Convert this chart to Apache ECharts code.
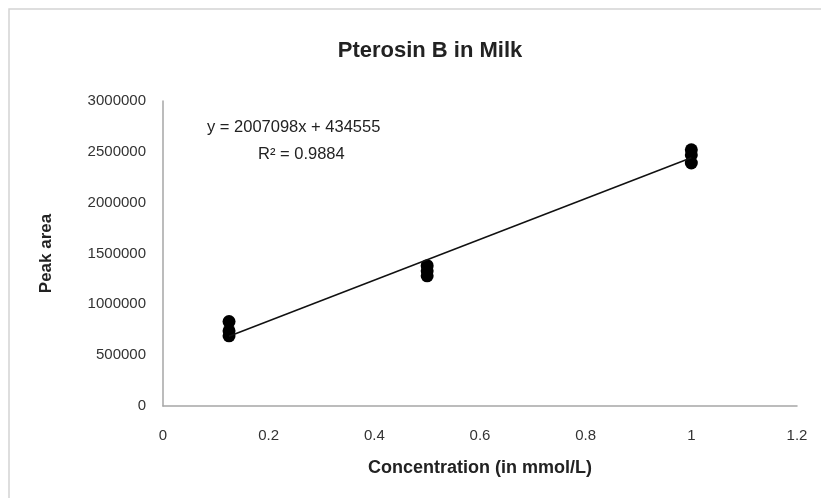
<!DOCTYPE html>
<html>
<head>
<meta charset="utf-8">
<script src="https://cdn.jsdelivr.net/npm/echarts@6/dist/echarts.min.js"></script>
<style>
html,body{margin:0;padding:0;background:#fff;}
#chart{width:821px;height:498px;}
</style>
</head>
<body>
<div id="chart"></div>
<script>
// Data
const concentrations = [0.125, 0.125, 0.125, 0.5, 0.5, 0.5, 1, 1, 1];
const peakAreas = [830000, 740000, 690000, 1380000, 1330000, 1280000, 2520000, 2470000, 2390000];
const trendX = [0.125, 1];
const trendY = [685442, 2441653];
const xTicks = [0, 0.2, 0.4, 0.6, 0.8, 1, 1.2];
const yTicks = [0, 500000, 1000000, 1500000, 2000000, 2500000, 3000000];
const equationText = 'y = 2007098x + 434555';
const r2Text = 'R² = 0.9884';

const chart = echarts.init(document.getElementById('chart'));
const labelFont = '"Liberation Sans", Arial, sans-serif';
chart.setOption({
  animation: false,
  backgroundColor: '#fff',
  title: {
    text: 'Pterosin B in Milk',
    left: 425, top: 35, textAlign: 'center',
    textStyle: {fontFamily: labelFont, fontSize: 22, fontWeight: 'bold', color: '#222'}
  },
  graphic: [
    {type: 'rect', shape: {x: 9, y: 9, width: 840, height: 520}, style: {fill: 'none', stroke: '#d4d4d4', lineWidth: 1.5}, z: -1},
    {type: 'text', left: 207, top: 119, style: {text: equationText, font: '16.5px "Liberation Sans", Arial, sans-serif', fill: '#222'}},
    {type: 'text', left: 258, top: 146, style: {text: r2Text, font: '16.5px "Liberation Sans", Arial, sans-serif', fill: '#222'}}
  ],
  grid: {left: 163, right: 24, top: 101, bottom: 92},
  xAxis: {
    type: 'value', min: 0, max: 1.2, interval: 0.2,
    name: 'Concentration (in mmol/L)', nameLocation: 'middle', nameGap: 53,
    nameTextStyle: {fontFamily: labelFont, fontSize: 18, fontWeight: 'bold', color: '#222'},
    axisLine: {lineStyle: {color: '#a6a6a6', width: 1.5}},
    axisTick: {show: false},
    splitLine: {show: false},
    axisLabel: {fontFamily: labelFont, fontSize: 15, color: '#333', margin: 22,
      formatter: v => { const t = xTicks.find(k => Math.abs(k - v) < 1e-9); return t === undefined ? '' : String(t); }}
  },
  yAxis: {
    type: 'value', min: 0, max: 3000000, interval: 500000,
    name: 'Peak area', nameLocation: 'middle', nameGap: 108,
    nameTextStyle: {fontFamily: labelFont, fontSize: 17, fontWeight: 'bold', color: '#222'},
    axisLine: {show: true, lineStyle: {color: '#a6a6a6', width: 1.5}},
    axisTick: {show: false},
    splitLine: {show: false},
    axisLabel: {fontFamily: labelFont, fontSize: 15, color: '#333', margin: 17,
      formatter: v => { const t = yTicks.find(k => Math.abs(k - v) < 1e-6); return t === undefined ? '' : String(t); }}
  },
  series: [
    {
      type: 'line', data: trendX.map((x, i) => [x, trendY[i]]),
      symbol: 'none', lineStyle: {color: '#111', width: 1.5}, z: 3
    },
    {
      type: 'scatter', data: concentrations.map((x, i) => [x, peakAreas[i]]),
      symbol: 'circle', symbolSize: 13, itemStyle: {color: '#000', opacity: 1}, z: 2
    }
  ]
});
</script>
</body>
</html>
